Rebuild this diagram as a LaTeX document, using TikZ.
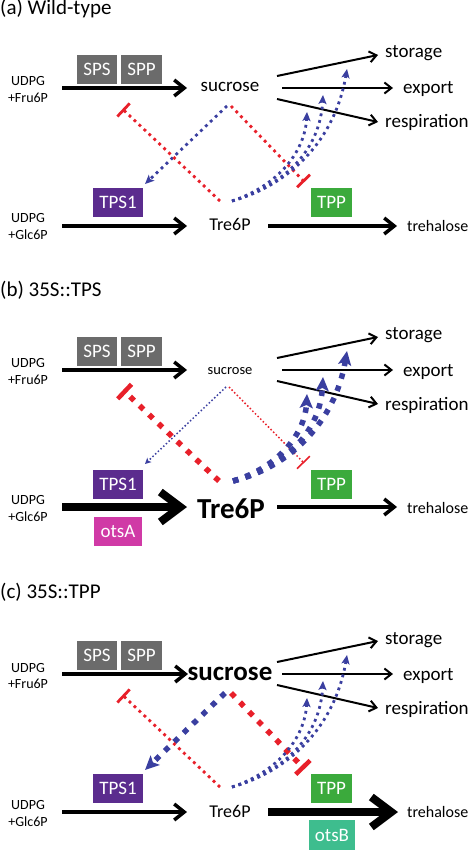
\documentclass[tikz,border=0pt]{standalone}
\usepackage{fontspec}
\setmainfont{Carlito}
\usetikzlibrary{arrows.meta}
\definecolor{boxgray}{HTML}{6B6B6B}
\definecolor{tpspurple}{HTML}{5B2C8E}
\definecolor{tppgreen}{HTML}{3BAA3C}
\definecolor{otsamag}{HTML}{D03AA6}
\definecolor{otsbteal}{HTML}{3EBD8E}
\definecolor{inhred}{HTML}{E8202A}
\definecolor{actblue}{HTML}{3A3FA0}
\newcommand{\fsz}[2]{\fontsize{#1}{#2}\selectfont}
\tikzset{
  ttl/.style={inner sep=0pt, anchor=base west, font=\fsz{21}{24}},
  enz/.style={minimum height=29pt, inner sep=0pt, text=white, font=\fsz{19}{22}},
  lbl/.style={inner sep=0pt, font=\fsz{19}{22}},
  lblsm/.style={inner sep=0pt, font=\fsz{16}{19}},
  udpg/.style={inner sep=0pt, align=center, font=\fsz{14}{17}},
  flux/.style={line width=3.5pt, -{Straight Barb[length=10pt,width=16pt]}},
  fluxthin/.style={line width=2pt, -{Straight Barb[length=7pt,width=11pt]}},
  fluxthick/.style={line width=8pt, -{Straight Barb[length=20pt,width=30pt]}},
  dotn/.style={line width=2.8pt, dash pattern=on 2.8pt off 4pt},
  dotk/.style={line width=5.5pt, dash pattern=on 5.5pt off 7.5pt},
  dott/.style={line width=1.5pt, dash pattern=on 1.5pt off 2.2pt},
  inhn/.style={inhred, dotn, -{Bar[width=18pt,line width=2.8pt]}},
  inhk/.style={inhred, dotk, -{Bar[width=20pt,line width=4.5pt]}},
  inht/.style={inhred, dott, -{Bar[width=18pt,line width=1.6pt]}},
  actn/.style={actblue, dotn, -{Stealth[length=9pt,width=8pt,inset=2pt]}},
  actk/.style={actblue, dotk, -{Stealth[length=14pt,width=13pt,inset=3pt]}},
  actt/.style={actblue, dott, -{Stealth[length=6pt,width=6pt,inset=1.5pt]}},
}
\begin{document}
\begin{tikzpicture}[x=1pt,y=-1pt]
\useasboundingbox (0,0) rectangle (469,850);
% ---------------- panel a ----------------
\begin{scope}[name prefix=a-]
\node[ttl] (title) at (0,15) {(a) Wild-type};
\node[udpg] (sub1) at (28,90) {UDPG\\+Fru6P};
\node[enz, fill=boxgray, minimum width=40pt] (sps) at (97,69.5) {SPS};
\node[enz, fill=boxgray, minimum width=41pt] (spp) at (141.5,69.5) {SPP};
\node[lbl, anchor=base] (suc) at (230,92) {sucrose};
\node[lbl, anchor=base west] (sto) at (385,58) {storage};
\node[lbl, anchor=base west] (exp) at (403,94) {export};
\node[lbl, anchor=base west] (res) at (385,128) {respiration};
\node[udpg] (sub2) at (28,227) {UDPG\\+Glc6P};
\node[enz, fill=tpspurple, minimum width=50pt] (tps) at (118,202.5) {TPS1};
\node[enz, fill=tppgreen, minimum width=41pt] (tpp) at (331.5,202.5) {TPP};
\node[inner sep=0pt, font=\fsz{18}{21}, anchor=base] (t6p) at (230,230) {Tre6P};
\node[lblsm, anchor=base west] (tre) at (407,231) {trehalose};
\coordinate (f0) at (62,88); \coordinate (f1) at (187,88);
\coordinate (g0) at (62,226); \coordinate (g1) at (187,226);
\coordinate (h0) at (268,226); \coordinate (h1) at (397,226);
\coordinate (s1) at (277,76); \coordinate (e1) at (378,55);
\coordinate (s2) at (282,88); \coordinate (e2) at (393,88);
\coordinate (s3) at (277,99); \coordinate (e3) at (378,122);
\coordinate (r1s) at (220,201); \coordinate (r1e) at (122.5,109);
\coordinate (b1s) at (227,106); \coordinate (b1e) at (145,184);
\coordinate (r2s) at (231,106); \coordinate (r2e) at (304.5,182);
\coordinate (b2s) at (232,201);
\coordinate (k1) at (307,112); \coordinate (k2) at (323,95); \coordinate (k3) at (347,69);
\draw[flux] (f0) -- (f1);
\draw[flux] (g0) -- (g1);
\draw[flux] (h0) -- (h1);
\draw[fluxthin] (s1) -- (e1);
\draw[fluxthin] (s2) -- (e2);
\draw[fluxthin] (s3) -- (e3);
\draw[actn] (b1s) -- (b1e);
\draw[inhn] (r1s) -- (r1e);
\draw[inhn] (r2s) -- (r2e);
\draw[actn] (b2s) .. controls (280,185) and (305,150) .. (k1);
\draw[actn] (b2s) .. controls (285,185) and (320,150) .. (k2);
\draw[actn] (b2s) .. controls (290,185) and (335,140) .. (k3);
\end{scope}
% ---------------- panel b ----------------
\begin{scope}[yshift=-282pt, name prefix=b-]
\node[ttl] (title) at (0,14) {(b) 35S::TPS};
\node[udpg] (sub1) at (28,90) {UDPG\\+Fru6P};
\node[enz, fill=boxgray, minimum width=40pt] (sps) at (97,69.5) {SPS};
\node[enz, fill=boxgray, minimum width=41pt] (spp) at (141.5,69.5) {SPP};
\node[inner sep=0pt, font=\fsz{14.5}{17}, anchor=base] (suc) at (230,92) {sucrose};
\node[lbl, anchor=base west] (sto) at (385,57) {storage};
\node[lbl, anchor=base west] (exp) at (403,94) {export};
\node[lbl, anchor=base west] (res) at (385,128) {respiration};
\node[udpg] (sub2) at (28,227) {UDPG\\+Glc6P};
\node[enz, fill=tpspurple, minimum width=50pt] (tps) at (118,202.5) {TPS1};
\node[enz, fill=otsamag, minimum width=48pt] (ots) at (118,249.5) {otsA};
\node[enz, fill=tppgreen, minimum width=41pt] (tpp) at (331.5,202.5) {TPP};
\node[inner sep=0pt, font=\bfseries\fsz{29}{33}, anchor=base] (t6p) at (231,236) {Tre6P};
\node[lblsm, anchor=base west] (tre) at (407,231) {trehalose};
\coordinate (f0) at (62,88); \coordinate (f1) at (187,88);
\coordinate (g0) at (62,225); \coordinate (g1) at (187,225);
\coordinate (h0) at (277,225); \coordinate (h1) at (397,225);
\coordinate (s1) at (277,76); \coordinate (e1) at (378,55);
\coordinate (s2) at (282,88); \coordinate (e2) at (393,88);
\coordinate (s3) at (277,99); \coordinate (e3) at (378,122);
\coordinate (r1s) at (219,199); \coordinate (r1e) at (123,108);
\coordinate (b1s) at (226,105); \coordinate (b1e) at (145,182);
\coordinate (r2s) at (229,105); \coordinate (r2e) at (304,181);
\coordinate (b2s) at (233,199);
\coordinate (k1) at (307,112); \coordinate (k2) at (323,95); \coordinate (k3) at (347,69);
\draw[flux] (f0) -- (f1);
\draw[fluxthick] (g0) -- (g1);
\draw[flux] (h0) -- (h1);
\draw[fluxthin] (s1) -- (e1);
\draw[fluxthin] (s2) -- (e2);
\draw[fluxthin] (s3) -- (e3);
\draw[actt] (b1s) -- (b1e);
\draw[inhk] (r1s) -- (r1e);
\draw[inht] (r2s) -- (r2e);
\draw[actk] (b2s) .. controls (280,185) and (305,150) .. (k1);
\draw[actk] (b2s) .. controls (285,185) and (320,150) .. (k2);
\draw[actk] (b2s) .. controls (290,185) and (335,140) .. (k3);
\end{scope}
% ---------------- panel c ----------------
\begin{scope}[yshift=-586pt, name prefix=c-]
\node[ttl] (title) at (0,12) {(c) 35S::TPP};
\node[udpg] (sub1) at (28,90) {UDPG\\+Fru6P};
\node[enz, fill=boxgray, minimum width=40pt] (sps) at (97,69.5) {SPS};
\node[enz, fill=boxgray, minimum width=41pt] (spp) at (141.5,69.5) {SPP};
\node[inner sep=0pt, font=\bfseries\fsz{27}{31}, anchor=base] (suc) at (230,94) {sucrose};
\node[lbl, anchor=base west] (sto) at (385,58) {storage};
\node[lbl, anchor=base west] (exp) at (403,94) {export};
\node[lbl, anchor=base west] (res) at (385,128) {respiration};
\node[udpg] (sub2) at (28,227) {UDPG\\+Glc6P};
\node[enz, fill=tpspurple, minimum width=50pt] (tps) at (118,202.5) {TPS1};
\node[enz, fill=tppgreen, minimum width=41pt] (tpp) at (331.5,202.5) {TPP};
\node[enz, fill=otsbteal, minimum width=46pt, minimum height=30pt] (ots) at (332,249) {otsB};
\node[inner sep=0pt, font=\fsz{18}{21}, anchor=base] (t6p) at (230,231) {Tre6P};
\node[lblsm, anchor=base west] (tre) at (407,231) {trehalose};
\coordinate (f0) at (62,88); \coordinate (f1) at (188,88);
\coordinate (g0) at (62,226); \coordinate (g1) at (187,226);
\coordinate (h0) at (268,226); \coordinate (h1) at (398,226);
\coordinate (s1) at (277,76); \coordinate (e1) at (378,55);
\coordinate (s2) at (282,88); \coordinate (e2) at (393,88);
\coordinate (s3) at (277,99); \coordinate (e3) at (378,122);
\coordinate (r1s) at (220,201); \coordinate (r1e) at (122.5,109);
\coordinate (b1s) at (225,107); \coordinate (b1e) at (145,184);
\coordinate (r2s) at (231,107); \coordinate (r2e) at (304.5,183);
\coordinate (b2s) at (232,201);
\coordinate (k1) at (307,112); \coordinate (k2) at (323,95); \coordinate (k3) at (347,69);
\draw[flux] (f0) -- (f1);
\draw[flux] (g0) -- (g1);
\draw[fluxthick] (h0) -- (h1);
\draw[fluxthin] (s1) -- (e1);
\draw[fluxthin] (s2) -- (e2);
\draw[fluxthin] (s3) -- (e3);
\draw[actk] (b1s) -- (b1e);
\draw[inhn] (r1s) -- (r1e);
\draw[inhk] (r2s) -- (r2e);
\draw[actn] (b2s) .. controls (280,185) and (305,150) .. (k1);
\draw[actn] (b2s) .. controls (285,185) and (320,150) .. (k2);
\draw[actn] (b2s) .. controls (290,185) and (335,140) .. (k3);
\end{scope}
\end{tikzpicture}
\end{document}
